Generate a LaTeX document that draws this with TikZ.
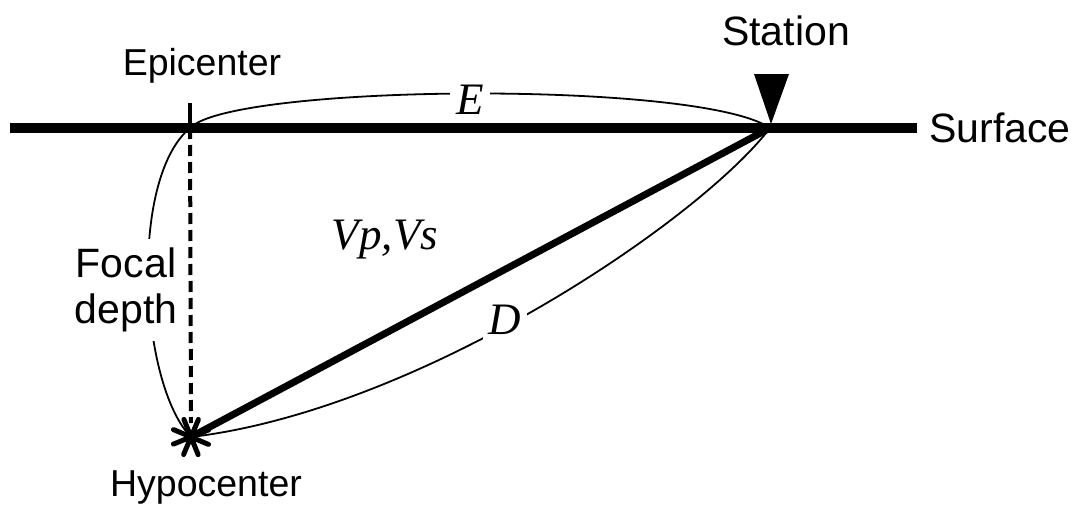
\documentclass[tikz,border=0pt]{standalone}
\usepackage{fontspec}
\setmainfont{Liberation Sans}
\newfontfamily\serifit{Liberation Serif}
\usetikzlibrary{calc}
\tikzset{
    rotulo/.style={font=\fontsize{41}{46}\selectfont, inner sep=2pt, align=center},
    rotulopeq/.style={rotulo, font=\fontsize{37.5}{42}\selectfont},
    grandeza/.style={font=\serifit\itshape\fontsize{45}{48}\selectfont, fill=white, inner sep=6pt},
    superficie/.style={line width=9.5pt},
    raio/.style={line width=7pt},
    vertical/.style={line width=4pt, dash pattern=on 11pt off 6pt},
    arco/.style={line width=1.8pt}
}

\begin{document}
\begin{tikzpicture}[x=1pt, y=1pt]
    \useasboundingbox (0,0) rectangle (1080,-506);

    \coordinate (epi) at (190,-128);
    \coordinate (est) at (770,-128);
    \coordinate (hipo) at (191,-437);
    \coordinate (sup-a) at (10,-128);
    \coordinate (sup-b) at (917,-128);

    % arcos de medida
    \draw[arco] (epi) .. controls (232,-84) and (700,-80) .. (est);
    \draw[arco] (epi) .. controls (128,-180) and (140,-385) .. (hipo);
    \draw[arco] (hipo) .. controls (420,-410) and (700,-220) .. (est);

    \node[grandeza] (e) at (470,-100) {E};
    \node[grandeza] (d) at (505,-320) {D};
    \node[rotulo, fill=white, inner ysep=9pt] (foco) at (126,-290) {Focal\\depth};
    \node[grandeza, fill=none] (vel) at (385,-240) {Vp,Vs};

    % linhas principais
    \draw[superficie] (sup-a) -- (sup-b);
    \draw[raio] (hipo) -- (est);
    \draw[vertical] (epi) -- ($(hipo)+(0,14)$);
    \draw[line width=3.5pt] (epi) -- ++(0,25);

    % estacao e hipocentro
    \fill (est) ++(1,4) -- ++(-17,50) -- ++(35,0) -- cycle;
    \foreach \ang in {22,67,...,337}
        \draw[line width=5pt, line cap=round] (hipo) -- ++(\ang:19);
    \fill (hipo) circle (7);

    \node[rotulo] (estacao) at (786,-31) {Station};
    \node[rotulopeq] (epicentro) at (202,-66) {Epicenter};
    \node[rotulo] (superficie) at (1000,-128) {Surface};
    \node[rotulopeq] (hipocentro) at (206,-487) {Hypocenter};
\end{tikzpicture}
\end{document}
